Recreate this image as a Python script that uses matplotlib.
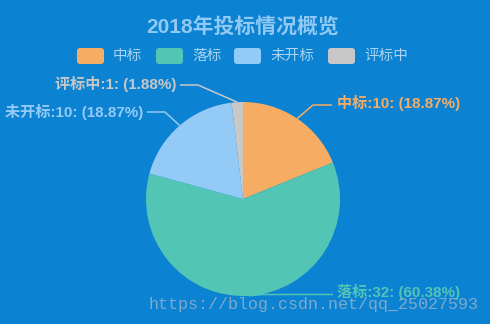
import numpy as np
import matplotlib
matplotlib.use("Agg")
import matplotlib.pyplot as plt
from matplotlib.patches import FancyBboxPatch

# ---- data ----
categories = ["中标", "落标", "未开标", "评标中"]
counts = [10, 32, 10, 1]
slice_colors = ["#f6ad63", "#52c5b5", "#94cbf6", "#c8c8c8"]
title_text = "2018年投标情况概览"
watermark = "https://blog.csdn.net/qq_25027593"

CJK = ["Noto Sans CJK SC", "DejaVu Sans"]
MIXED = ["Liberation Sans", "Noto Sans CJK SC"]
BG = "#0b82d2"
W, H = 490, 324


def percent_shares(values, digits=2):
    """Percentages rounded with the largest-remainder rule so they sum to 100."""
    total = sum(values)
    scale = 10 ** digits
    raw = [v / total * 100 * scale for v in values]
    floors = [int(np.floor(r)) for r in raw]
    left = 100 * scale - sum(floors)
    order = sorted(range(len(values)), key=lambda i: raw[i] - floors[i], reverse=True)
    for i in order[:left]:
        floors[i] += 1
    return [f / scale for f in floors]


def py(y):
    # convert a top-down pixel row into the y-up axis coordinate
    return H - y


fig = plt.figure(figsize=(W / 100, H / 100), dpi=100, facecolor=BG)
ax = fig.add_axes([0, 0, 1, 1])
ax.set_facecolor(BG)

cx, cy, R = 243, py(199), 97
wedges, _ = ax.pie(counts, colors=slice_colors, startangle=90, counterclock=False,
                   radius=R, center=(cx, cy), wedgeprops=dict(linewidth=0))
ax.set_xlim(0, W)
ax.set_ylim(0, H)
ax.set_aspect("equal")
ax.axis("off")

# ---- title ----
ax.text(243, py(28), title_text, ha="center", va="center", fontsize=15,
        fontweight="bold", color="#90c9f3", family=MIXED)

# ---- legend ----
box_x = [77, 156, 234, 328]
text_x = [113, 192, 270, 364]
for bx, tx, name, col in zip(box_x, text_x, categories, slice_colors):
    ax.add_patch(FancyBboxPatch((bx, py(56) - 8), 27, 16,
                                boxstyle="round,pad=0,rounding_size=3",
                                facecolor=col, edgecolor="none"))
    ax.text(tx, py(56), name, ha="left", va="center", fontsize=10.5,
            color="#a9d4f4", family=CJK)

# ---- slice labels with leader lines ----
shares = percent_shares(counts)
# (elbow, line end, text anchor, alignment) in pixel coordinates
layout = [
    ((313, 105), (332, 105), (337, 103), "left"),
    ((262, 294.5), (333, 294.5), (337, 292.5), "left"),
    ((165, 112), (147, 112), (143, 111.5), "right"),
    ((198, 85), (180, 85), (176, 84), "right"),
]
for w, name, n, pct, col, (elbow, end, tpos, ha) in zip(
        wedges, categories, counts, shares, slice_colors, layout):
    mid = np.deg2rad((w.theta1 + w.theta2) / 2)
    sx, sy = cx + R * np.cos(mid), cy + R * np.sin(mid)
    ax.plot([sx, elbow[0], end[0]], [sy, py(elbow[1]), py(end[1])],
            color=col, lw=1.1, solid_capstyle="butt")
    ax.text(tpos[0], py(tpos[1]), f"{name}:{n}: ({pct:.2f}%)", ha=ha, va="center",
            fontsize=10.9, fontweight="bold", color=col, family=MIXED)

# ---- site watermark ----
ax.text(148, py(304), watermark, ha="left", va="center", fontsize=12,
        family="Liberation Mono", color="#9db4c9", alpha=0.8)

fig.savefig("out.png", dpi=100, facecolor=BG)
